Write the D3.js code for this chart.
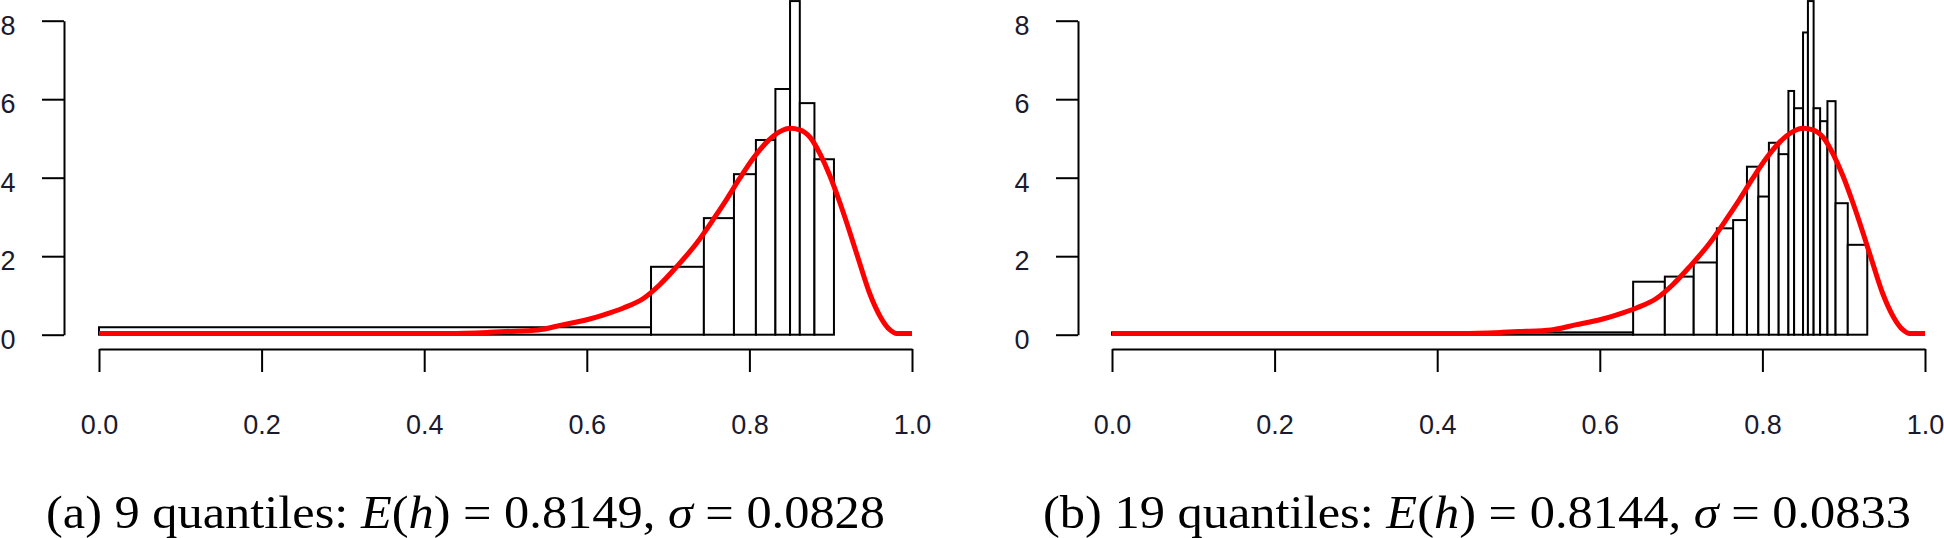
<!DOCTYPE html>
<html>
<head>
<meta charset="utf-8">
<script src="https://cdn.jsdelivr.net/npm/d3@7"></script>
<style>
  body { margin: 0; background: #fff; }
  svg { display: block; }
  .tick text { font-family: "Liberation Sans", Arial, sans-serif; font-size: 27px; fill: #1a1a2e; }
  .caption { font-family: "Liberation Serif", "DejaVu Serif", serif; font-size: 46px; fill: #000; }
</style>
</head>
<body>
<div id="chart"></div>
<script>
// Ukuran kanvas
const width = 1944;
const height = 538;

// Tick labels
const xTicks = [0, 0.2, 0.4, 0.6, 0.8, 1.0];
const yTicks = [0, 2, 4, 6, 8];

// Panel (a): batas bin dan tinggi (density)
const breaksA = [0, 0.679, 0.744, 0.781, 0.808, 0.832, 0.850, 0.862, 0.880, 0.904];
const heightsA = [0.19, 1.73, 2.97, 4.09, 4.96, 6.26, 8.5, 5.90, 4.47];

// Panel (b)
const breaksB = [0, 0.641, 0.680, 0.7155, 0.744, 0.764, 0.781, 0.795, 0.808, 0.820,
  0.832, 0.839, 0.850, 0.856, 0.863, 0.871, 0.880, 0.890, 0.905, 0.929];
const heightsB = [0.06, 1.35, 1.48, 1.84, 2.71, 2.92, 4.28, 3.52, 4.89, 4.60,
  6.21, 5.77, 7.70, 8.5, 5.77, 5.44, 5.95, 3.35, 2.29];

// Kurva density merah (sama untuk kedua panel)
const densX = [0, 0.43, 0.48, 0.50, 0.54, 0.57, 0.60, 0.62, 0.645, 0.67, 0.69, 0.71,
  0.735, 0.756, 0.772, 0.788, 0.805, 0.821, 0.838, 0.850, 0.862, 0.875, 0.887,
  0.899, 0.911, 0.924, 0.936, 0.948, 0.961, 0.973, 0.981, 1.0];
const densY = [0.03, 0.03, 0.06, 0.08, 0.12, 0.25, 0.38, 0.50, 0.68, 0.93, 1.28, 1.72,
  2.33, 2.95, 3.45, 3.98, 4.50, 4.90, 5.18, 5.26, 5.22, 5.02, 4.60,
  4.05, 3.38, 2.58, 1.80, 1.05, 0.46, 0.12, 0.03, 0.03];

const captionA = [
  { t: "(a) 9 quantiles: " }, { t: "E", i: true }, { t: "(" }, { t: "h", i: true },
  { t: ") = 0.8149, " }, { t: "σ", i: true }, { t: " = 0.0828" }
];
const captionB = [
  { t: "(b) 19 quantiles: " }, { t: "E", i: true }, { t: "(" }, { t: "h", i: true },
  { t: ") = 0.8144, " }, { t: "σ", i: true }, { t: " = 0.0833" }
];

const svg = d3.select("#chart").append("svg")
  .attr("width", width)
  .attr("height", height);

const y = d3.scaleLinear().domain([0, 8]).range([334.7, 20.7]);

function drawPanel(opt) {
  const x = d3.scaleLinear().domain([0, 1]).range([opt.x0, opt.x1]);
  const g = svg.append("g");

  // Batang histogram
  const bins = opt.heights.map((h, i) => ({ a: opt.breaks[i], b: opt.breaks[i + 1], h }));
  g.selectAll("rect.bar")
    .data(bins)
    .enter()
    .append("rect")
    .attr("class", "bar")
    .attr("x", (d) => x(d.a))
    .attr("y", (d) => y(d.h))
    .attr("width", (d) => x(d.b) - x(d.a))
    .attr("height", (d) => y(0) - y(d.h))
    .attr("fill", "#fff")
    .attr("stroke", "#000")
    .attr("stroke-width", 2);

  // Kurva density
  const line = d3.line()
    .x((d, i) => x(densX[i]))
    .y((d) => y(d))
    .curve(d3.curveMonotoneX);
  g.append("path")
    .datum(densY)
    .attr("d", line)
    .attr("fill", "none")
    .attr("stroke", "#ff0000")
    .attr("stroke-width", 5);

  // Sumbu x
  const ax = g.append("g")
    .attr("transform", `translate(0, 349)`)
    .call(d3.axisBottom(x).tickValues(xTicks).tickSize(23).tickSizeOuter(0)
      .tickFormat(d3.format(".1f")));
  ax.selectAll("text").attr("y", 85).attr("dy", 0);

  // Sumbu y
  const ay = g.append("g")
    .attr("transform", `translate(${opt.yAxisX}, 0)`)
    .call(d3.axisLeft(y).tickValues(yTicks).tickSize(22).tickSizeOuter(0));
  ay.selectAll("text").attr("x", -56).attr("dy", "0.5em").attr("text-anchor", "middle");

  g.selectAll(".domain, .tick line").attr("stroke", "#000").attr("stroke-width", 2);

  // Caption
  const cap = g.append("text")
    .attr("class", "caption")
    .attr("x", opt.capX)
    .attr("y", 528)
    .attr("textLength", opt.capW)
    .attr("lengthAdjust", "spacingAndGlyphs");
  cap.selectAll("tspan")
    .data(opt.caption)
    .enter()
    .append("tspan")
    .style("font-style", (d) => (d.i ? "italic" : "normal"))
    .text((d) => d.t);
}

drawPanel({ x0: 99, x1: 912, yAxisX: 64, breaks: breaksA, heights: heightsA,
  caption: captionA, capX: 46, capW: 839 });
drawPanel({ x0: 1112, x1: 1925, yAxisX: 1078, breaks: breaksB, heights: heightsB,
  caption: captionB, capX: 1043, capW: 868 });
</script>
</body>
</html>
